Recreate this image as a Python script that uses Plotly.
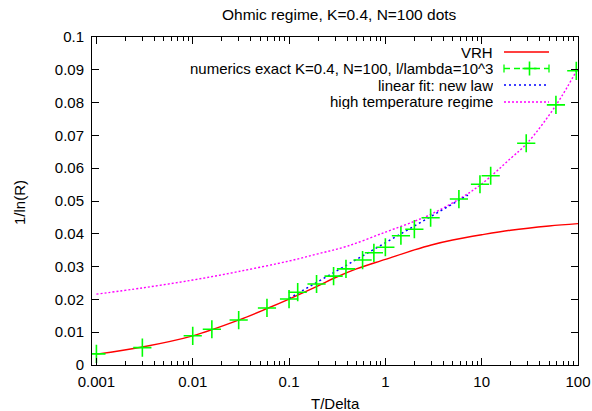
import plotly.graph_objects as go
import math

# ---------------- data ----------------
vrh_T = [0.001, 0.003, 0.01, 0.03, 0.06, 0.1, 0.2, 0.3, 0.5, 1, 2, 3, 5, 10, 20, 50, 100]
vrh_y = [0.0033, 0.0055, 0.0089, 0.0137, 0.0173, 0.0201, 0.0241, 0.0266, 0.0293, 0.0322,
         0.0351, 0.0366, 0.0381, 0.0397, 0.0411, 0.0424, 0.0431]

num_T = [0.001, 0.003, 0.01, 0.0158, 0.03, 0.059, 0.1, 0.123, 0.193, 0.29, 0.39, 0.58, 0.76,
         1.0, 1.45, 2.0, 2.95, 5.8, 9.6, 12.4, 29, 59, 96]
num_y = [0.0034, 0.0053, 0.0089, 0.0109, 0.0137, 0.0174, 0.0201, 0.0222, 0.0247, 0.0271,
         0.0293, 0.0320, 0.0342, 0.0359, 0.0394, 0.0414, 0.0449, 0.0506, 0.0551, 0.0577,
         0.0676, 0.0793, 0.0897]

fit_T = [0.1, 7.2]
fit_y = [0.0203, 0.0518]

ht_T = [0.001, 0.003, 0.01, 0.03, 0.1, 0.2, 0.4, 1, 2, 3, 6, 10, 20, 30, 60, 100]
ht_y = [0.0216, 0.0235, 0.0259, 0.0285, 0.0317, 0.0339, 0.0362, 0.0405, 0.0438, 0.0460,
        0.0508, 0.0552, 0.0630, 0.0678, 0.0795, 0.0905]

x_tickvals = [0.001, 0.01, 0.1, 1, 10, 100]
x_ticktext = ["0.001", "0.01", "0.1", "1", "10", "100"]
y_tickvals = [0, 0.01, 0.02, 0.03, 0.04, 0.05, 0.06, 0.07, 0.08, 0.09, 0.1]
y_ticktext = ["0", "0.01", "0.02", "0.03", "0.04", "0.05", "0.06", "0.07", "0.08", "0.09", "0.1"]

legend_labels = ["VRH", "numerics exact K=0.4, N=100, l/lambda=10^3",
                 "linear fit: new law", "high temperature regime"]

title_text = "Ohmic regime, K=0.4, N=100 dots"
xlabel = "T/Delta"
ylabel = "1/ln(R)"

RED, GREEN, BLUE, MAG = "#ff0000", "#00ff00", "#0000ff", "#ff00ff"
FONT = "Liberation Sans, Arial, sans-serif"
FS = 15

# ---------------- layout geometry ----------------
W, H = 592, 411
L, R, T, B = 92, 578, 37, 365


def px(xp):
    return (xp - L) / (R - L)


def py(yp):
    return (B - yp) / (B - T)


minor_vals = [m * 10 ** e for e in range(-4, 3) for m in range(2, 10)]
minor_vals = [v for v in minor_vals if 0.0009 < v < 100]

fig = go.Figure()
fig.add_trace(go.Scatter(x=vrh_T, y=vrh_y, mode="lines", line=dict(color=RED, width=1.4, shape="spline"),
                         showlegend=False))
fig.add_trace(go.Scatter(x=ht_T, y=ht_y, mode="lines",
                         line=dict(color=MAG, width=1.4, dash="2px,2px", shape="spline"), showlegend=False))
fig.add_trace(go.Scatter(x=fit_T, y=fit_y, mode="lines",
                         line=dict(color=BLUE, width=1.6, dash="2px,3px"), showlegend=False))
fig.add_trace(go.Scatter(x=num_T, y=num_y, mode="markers",
                         marker=dict(symbol="cross-thin", size=13, line=dict(color=GREEN, width=1.6)),
                         showlegend=False))

shapes = []
annotations = []
rows = [52, 68.5, 85, 102]
sx0, sx1 = 504, 549
styles = [(RED, "solid", 1.4), (GREEN, "6px,4px", 1.3), (BLUE, "2px,3px", 1.6), (MAG, "2px,2px", 1.4)]
for lab, yr, (col, dash, w) in zip(legend_labels, rows, styles):
    annotations.append(dict(x=px(494), y=py(yr), xref="paper", yref="paper", text=lab, showarrow=False,
                            xanchor="right", yanchor="middle", height=15, borderpad=0,
                            font=dict(family=FONT, size=FS, color="#000")))
    shapes.append(dict(type="line", xref="paper", yref="paper", x0=px(sx0), x1=px(sx1), y0=py(yr), y1=py(yr),
                       line=dict(color=col, width=w, dash=dash)))
# error-bar style legend sample: end caps and a cross
yr = rows[1]
for xc in (sx0, sx1):
    shapes.append(dict(type="line", xref="paper", yref="paper", x0=px(xc), x1=px(xc), y0=py(yr - 4), y1=py(yr + 4),
                       line=dict(color=GREEN, width=1.3)))
xc = (sx0 + sx1) / 2 + 3
shapes.append(dict(type="line", xref="paper", yref="paper", x0=px(xc - 7), x1=px(xc + 7), y0=py(yr), y1=py(yr),
                   line=dict(color=GREEN, width=1.6)))
shapes.append(dict(type="line", xref="paper", yref="paper", x0=px(xc), x1=px(xc), y0=py(yr - 7), y1=py(yr + 7),
                   line=dict(color=GREEN, width=1.6)))

annotations.append(dict(x=px(339), y=py(15), xref="paper", yref="paper", text=title_text, showarrow=False,
                        xanchor="center", yanchor="middle", font=dict(family=FONT, size=15.5, color="#000")))
annotations.append(dict(x=px(335), y=py(403), xref="paper", yref="paper", text=xlabel, showarrow=False,
                        xanchor="center", yanchor="middle", font=dict(family=FONT, size=FS, color="#000")))
annotations.append(dict(x=px(19), y=py(203), xref="paper", yref="paper", text=ylabel, showarrow=False,
                        textangle=-90, xanchor="center", yanchor="middle",
                        font=dict(family=FONT, size=FS, color="#000")))

fig.update_layout(
    width=W, height=H,
    margin=dict(l=L, r=W - R, t=T, b=H - B, pad=0),
    paper_bgcolor="white", plot_bgcolor="white",
    font=dict(family=FONT, size=FS, color="#000"),
    shapes=shapes, annotations=annotations,
    xaxis=dict(type="log", range=[math.log10(0.0009), 2], tickmode="array", tickvals=x_tickvals,
               ticktext=x_ticktext, ticks="inside", ticklen=7, tickcolor="#000", tickwidth=1,
               showline=True, linecolor="#000", linewidth=1, mirror="allticks", showgrid=False,
               zeroline=False, automargin=False, ticklabelstandoff=3,
               tickfont=dict(family=FONT, size=FS, color="#000"),
               minor=dict(tickmode="array", tickvals=minor_vals, ticks="inside", ticklen=4,
                          tickcolor="#000", showgrid=False)),
    yaxis=dict(range=[0, 0.1], tickmode="array", tickvals=y_tickvals, ticktext=y_ticktext,
               ticks="inside", ticklen=7, tickcolor="#000", tickwidth=1,
               showline=True, linecolor="#000", linewidth=1, mirror="allticks", showgrid=False,
               zeroline=False, automargin=False, ticklabelstandoff=4,
               tickfont=dict(family=FONT, size=FS, color="#000")),
)

fig.write_html("out.html")
